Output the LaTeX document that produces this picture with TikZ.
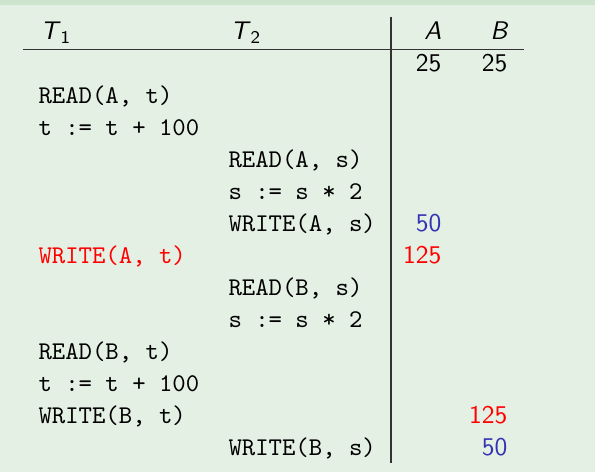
\documentclass[tikz,border=0pt]{standalone}
\definecolor{blockbg}{RGB}{229,240,229}
\definecolor{blocktop}{RGB}{205,229,204}
\definecolor{valred}{RGB}{255,0,0}
\definecolor{valblue}{RGB}{51,51,179}
\tikzset{
	op/.style={anchor=base west, inner sep=0pt, font=\fontsize{10}{12}\selectfont\ttfamily},
	val/.style={anchor=base east, inner sep=0pt, font=\fontsize{10}{12}\selectfont\sffamily},
	hd/.style={anchor=base west, inner sep=0pt, font=\fontsize{10}{12}\selectfont\sffamily},
	hdv/.style={anchor=base east, inner sep=0pt, font=\fontsize{10}{12}\selectfont\sffamily\itshape},
	rule/.style={draw=black!80, line width=0.45pt}
}
\begin{document}
\begin{tikzpicture}[x=0.392pt,y=-0.392pt]
			\useasboundingbox (0,0) rectangle (595,472);
			\fill[blockbg] (0,0) rectangle (595,472);
			\fill[blocktop] (0,0) rectangle (595,5);
			
			%Header
			\def\ta{38}
			\def\tb{228}
			\def\va{442}
			\def\vb{508}
			\node[hd] (T1) at (\ta+2,39.3) {\textit{T}$_{\mathsf{1}}$};
			\node[hd] (T2) at (\tb+2,39.3) {\textit{T}$_{\mathsf{2}}$};
			\node[hdv] (A) at (\va,39.3) {A};
			\node[hdv] (B) at (\vb,39.3) {B};
			
			%Rules
			\coordinate (ruleL) at (23,49.3);
			\coordinate (ruleR) at (524,49.3);
			\coordinate (ruleT) at (391,16.7);
			\coordinate (ruleB) at (391,463);
			\draw[rule] (ruleL) -- (ruleR);
			\draw[rule] (ruleT) -- (ruleB);
			
			%Start values
			\node[val] (A0) at (\va,71.3) {25};
			\node[val] (B0) at (\vb,71.3) {25};
			
			%Schedule on A
			\node[op] (readAt) at (\ta,103.3) {READ(A, t)};
			\node[op] (calcT1) at (\ta,135.3) {t := t + 100};
			\node[op] (readAs) at (\tb,167.3) {READ(A, s)};
			\node[op] (calcS1) at (\tb,199.3) {s := s * 2};
			\node[op] (writeAs) at (\tb,231.3) {WRITE(A, s)};
			\node[val, text=valblue] (A1) at (\va,231.3) {50};
			\node[op, text=valred] (writeAt) at (\ta,263.3) {WRITE(A, t)};
			\node[val, text=valred] (A2) at (\va,263.3) {125};
			
			%Schedule on B
			\node[op] (readBs) at (\tb,295.3) {READ(B, s)};
			\node[op] (calcS2) at (\tb,327.3) {s := s * 2};
			\node[op] (readBt) at (\ta,359.3) {READ(B, t)};
			\node[op] (calcT2) at (\ta,391.3) {t := t + 100};
			\node[op] (writeBt) at (\ta,423.3) {WRITE(B, t)};
			\node[val, text=valred] (B1) at (\vb,423.3) {125};
			\node[op] (writeBs) at (\tb,455.3) {WRITE(B, s)};
			\node[val, text=valblue] (B2) at (\vb,455.3) {50};
		\end{tikzpicture}
\end{document}
